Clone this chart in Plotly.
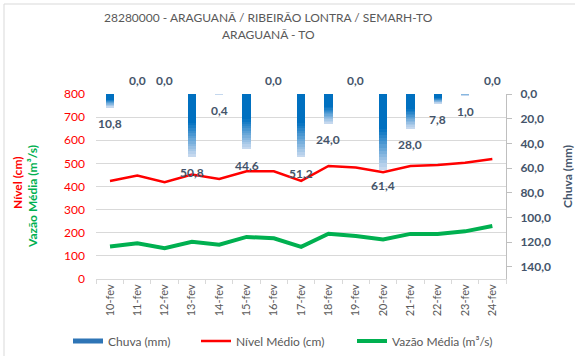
import plotly.graph_objects as go

# Daily series for the station, 10 to 24 February
dias = ["10-fev", "11-fev", "12-fev", "13-fev", "14-fev", "15-fev", "16-fev", "17-fev",
        "18-fev", "19-fev", "20-fev", "21-fev", "22-fev", "23-fev", "24-fev"]
chuva_mm = [10.8, 0.0, 0.0, 50.8, 0.4, 44.6, 0.0, 51.2, 24.0, 0.0, 61.4, 28.0, 7.8, 1.0, 0.0]
nivel_cm = [424, 447, 419, 452, 433, 466, 466, 424, 489, 482, 462, 489, 493, 503, 519]
vazao_m3s = [141, 155, 133, 161, 148, 182, 176, 139, 196, 186, 171, 195, 195, 206, 229]

titulo_1 = "28280000 - ARAGUANÃ / RIBEIRÃO LONTRA / SEMARH-TO"
titulo_2 = "ARAGUANÃ - TO"

FONT = "Lato"
GRAY = "#595959"
SLATE = "#44546A"
BLUE_TOP = (0, 112, 192)
BLUE_BOTTOM = (205, 220, 240)

W, H = 575, 356
ML, MR, MT, MB = 96, 69, 94, 77
PW, PH = W - ML - MR, H - MT - MB


def px_x(p):
    """Horizontal pixel position -> paper fraction."""
    return (p - ML) / PW


def px_y(p):
    """Vertical pixel position (from top) -> paper fraction."""
    return (H - MB - p) / PH


def shade(f):
    """Colour of the rain bar at relative depth f (0 = top, 1 = tip)."""
    t = 0.0 if f < 0.45 else (f - 0.45) / 0.55
    r, g, b = (round(a + (c - a) * t) for a, c in zip(BLUE_TOP, BLUE_BOTTOM))
    return f"rgb({r},{g},{b})"


fig = go.Figure()

# Rain bars hang from the top of the reversed right axis; each bar is split
# into equal stacked slices so that it fades from solid blue to pale blue.
N = 24
for k in range(N):
    fig.add_trace(go.Bar(
        x=dias, y=[v / N for v in chuva_mm], yaxis="y2",
        marker=dict(color=shade((k + 0.5) / N), line=dict(width=0)),
        width=0.3, showlegend=False, hoverinfo="skip",
    ))

# Legend entry for the rain bars
fig.add_trace(go.Scatter(
    x=[None], y=[None], mode="lines", name="Chuva (mm)",
    line=dict(color="#2E75B6", width=5), legend="legend",
))

fig.add_trace(go.Scatter(
    x=dias, y=nivel_cm, mode="lines", name="Nível Médio (cm)",
    line=dict(color="#FF0000", width=2.5), legend="legend2",
))
fig.add_trace(go.Scatter(
    x=dias, y=vazao_m3s, mode="lines", name="Vazão Média (m³/s)",
    line=dict(color="#00B050", width=4), legend="legend3",
))

annotations = []
# Rain value labels under each bar tip (zero values sit above the plot)
for d, v in zip(dias, chuva_mm):
    annotations.append(dict(
        x=d, y=v, xref="x", yref="y2", showarrow=False,
        text=f"{v:.1f}".replace(".", ","),
        yshift=-16 if v > 0 else 14,
        font=dict(family=FONT, size=12, color=SLATE, weight="bold"),
    ))

title_font = dict(family=FONT, size=12, color=GRAY)
annotations += [
    dict(text=titulo_1, x=px_x(268), y=px_y(17), xref="paper", yref="paper",
         showarrow=False, xanchor="center", yanchor="middle", font=title_font),
    dict(text=titulo_2, x=px_x(268), y=px_y(35), xref="paper", yref="paper",
         showarrow=False, xanchor="center", yanchor="middle", font=title_font),
    dict(text="Nível (cm)", x=px_x(17), y=px_y(183), xref="paper", yref="paper",
         showarrow=False, textangle=-90, xanchor="center", yanchor="middle",
         font=dict(family=FONT, size=12, color="#FF0000", weight="bold")),
    dict(text="Vazão Média (m³/s)", x=px_x(32), y=px_y(197), xref="paper", yref="paper",
         showarrow=False, textangle=-90, xanchor="center", yanchor="middle",
         font=dict(family=FONT, size=12, color="#00B050", weight="bold")),
    dict(text="Chuva (mm)", x=px_x(567), y=px_y(177), xref="paper", yref="paper",
         showarrow=False, textangle=-90, xanchor="center", yanchor="middle",
         font=dict(family=FONT, size=12, color=SLATE, weight="bold")),
]

legend_font = dict(family=FONT, size=12, color=GRAY)
legend_common = dict(orientation="h", xref="container", yref="container",
                     yanchor="middle", y=1 - 341 / H, xanchor="left",
                     font=legend_font, bgcolor="rgba(0,0,0,0)", borderwidth=0)

fig.update_layout(
    width=W, height=H,
    margin=dict(l=ML, r=MR, t=MT, b=MB, autoexpand=False),
    paper_bgcolor="white", plot_bgcolor="white",
    separators=",.",
    barmode="stack",
    font=dict(family=FONT, color=GRAY),
    annotations=annotations,
    legend=dict(x=68 / W, **legend_common),
    legend2=dict(x=196 / W, **legend_common),
    legend3=dict(x=352 / W, **legend_common),
    xaxis=dict(
        type="category", tickangle=-90, tickfont=dict(family=FONT, size=11, color=GRAY),
        showline=True, linecolor="#D9D9D9", linewidth=1,
        ticks="outside", tickson="boundaries", ticklen=4, tickcolor="#D9D9D9",
        showgrid=False, zeroline=False, automargin=False,
    ),
    yaxis=dict(
        range=[0, 800], dtick=100, showgrid=True, gridcolor="#D9D9D9", gridwidth=1,
        zeroline=False, showline=False, automargin=False,
        tickfont=dict(family=FONT, size=12, color="#FF0000"), ticklabelstandoff=10,
    ),
    yaxis2=dict(
        overlaying="y", side="right", range=[150, 0],
        tickvals=[0, 20, 40, 60, 80, 100, 120, 140], tickformat=".1f",
        showgrid=False, zeroline=False, automargin=False,
        showline=True, linecolor="#BFBFBF", linewidth=1,
        ticks="outside", ticklen=5, tickcolor="#BFBFBF",
        tickfont=dict(family=FONT, size=12, color=SLATE, weight="bold"),
        ticklabelstandoff=6,
    ),
    shapes=[dict(type="rect", xref="paper", yref="paper",
                 x0=px_x(4), x1=2.0, y0=-2.0, y1=px_y(4),
                 line=dict(color="#D9D9D9", width=1), fillcolor="rgba(0,0,0,0)",
                 layer="below")],
)

fig.write_html("out.html")
